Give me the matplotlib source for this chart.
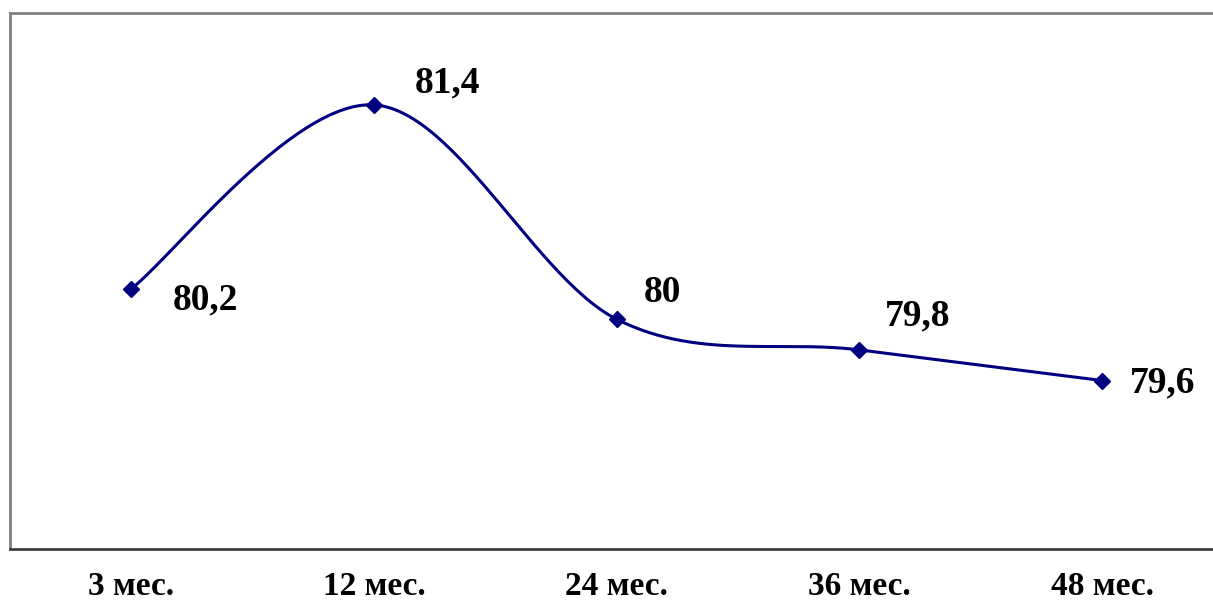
import matplotlib.pyplot as plt
import numpy as np

plt.rcParams['font.family'] = ['Liberation Serif', 'DejaVu Serif']

categories = ['3 мес.', '12 мес.', '24 мес.', '36 мес.', '48 мес.']
values = [80.2, 81.4, 80.0, 79.8, 79.6]
labels = ['80,2', '81,4', '80', '79,8', '79,6']
# label offsets in pixels from each point
offsets = [(41, -11), (41, 22), (27, 27), (25, 34), (28, -2)]

def smooth(xs, ys, sx, sy, n=60):
    # Excel-style bezier smoothing done in screen-like units
    px = np.asarray(xs, float) * sx
    py = np.asarray(ys, float) * sy
    out_x, out_y = [], []
    k = len(px)
    for i in range(k - 1):
        p0 = np.array([px[max(i - 1, 0)], py[max(i - 1, 0)]])
        p1 = np.array([px[i], py[i]])
        p2 = np.array([px[i + 1], py[i + 1]])
        p3 = np.array([px[min(i + 2, k - 1)], py[min(i + 2, k - 1)]])
        c1 = p1 + (p2 - p0) / 6
        c2 = p2 - (p3 - p1) / 6
        t = np.linspace(0, 1, n)[:, None]
        b = (1 - t) ** 3 * p1 + 3 * (1 - t) ** 2 * t * c1 + 3 * (1 - t) * t ** 2 * c2 + t ** 3 * p2
        out_x.extend(b[:, 0] / sx)
        out_y.extend(b[:, 1] / sy)
    return np.array(out_x), np.array(out_y)

fig = plt.figure(figsize=(12.13, 6.05), dpi=100)
W, H = 1213, 605
left, right, top, bottom = 10, 1223.5, 13, 549
ax = fig.add_axes([left / W, 1 - bottom / H, (right - left) / W, (bottom - top) / H])

x = np.arange(len(values))
sx, sy = 243, 153
cx, cy = smooth(x, values, sx, sy)
ax.plot(cx, cy, color='#000080', lw=2.2)
ax.plot(x, values, linestyle='none', marker='D', color='#000080', markersize=8)

for xi, v, lab, (dx, dy) in zip(x, values, labels, offsets):
    ax.annotate(lab, (xi, v), xytext=(dx, dy), textcoords='offset pixels',
                ha='left', va='center', fontsize=27, fontweight='bold')

ax.set_xlim(-0.5, len(values) - 0.5)
ax.set_ylim(78.5, 82.0)
ax.set_xticks(x)
ax.set_xticklabels(categories, fontsize=24, fontweight='bold')
ax.tick_params(axis='x', length=0, pad=16)
ax.set_yticks([])
for s in ['left', 'top', 'right']:
    ax.spines[s].set_color('#808080')
    ax.spines[s].set_linewidth(2)
ax.spines['bottom'].set_color('#404040')
ax.spines['bottom'].set_linewidth(2)

fig.savefig('out.png', dpi=100)
